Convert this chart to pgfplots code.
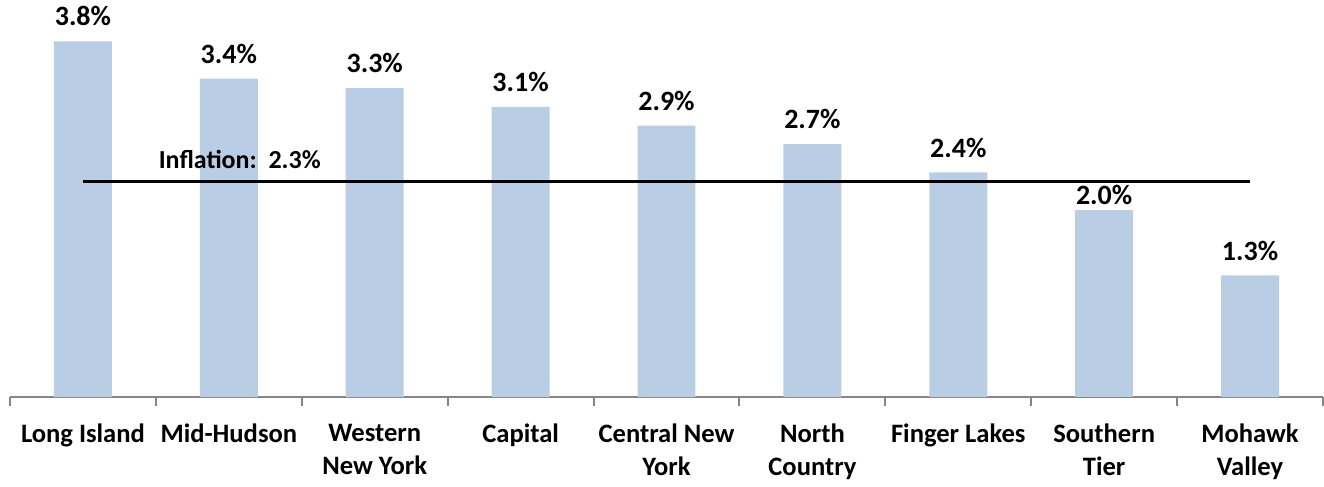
\documentclass[border=0pt]{standalone}
\usepackage{pgfplots}
\pgfplotsset{compat=1.18}
\usepackage{fontspec}
\setmainfont{Carlito}
\definecolor{barblue}{HTML}{B9CDE5}
\definecolor{axgray}{HTML}{868686}
\begin{document}
\begin{tikzpicture}
\begin{axis}[
  scale only axis, width=657pt, height=198.5pt,
  xmin=-0.5, xmax=8.5, ymin=0, ymax=4.237,
  axis x line=bottom, axis y line=none,
  x axis line style={-, draw=axgray, line width=1pt},
  xtick={0,...,8},
  xticklabels={Long Island, Mid-Hudson, {Western\\New York}, Capital, {Central New\\York}, {North\\Country}, Finger Lakes, {Southern\\Tier}, {Mohawk\\Valley}},
  major tick length=0pt,
  minor xtick={-0.5,0.5,...,8.5},
  minor tick length=4.5pt,
  minor tick style={draw=axgray, line width=1pt},
  tick align=outside,
  xticklabel style={align=center, font=\fontsize{13.3}{16.5}\selectfont\bfseries, yshift=-10pt},
  clip=false,
  valbar/.style={ybar, bar width=29pt, fill=barblue, draw=none,
    nodes near coords={\pgfmathprintnumber[fixed, fixed zerofill, precision=1, assume math mode=true]{\pgfplotspointmeta}\%},
    nodes near coords style={font=\fontsize{14}{16}\selectfont\bfseries, yshift=#1, black}},
]
\addplot[valbar=4pt]
  coordinates {(0,3.8) (1,3.4) (2,3.3) (3,3.1) (4,2.9) (5,2.7) (6,2.4) (8,1.3)};
\addplot[valbar=-1pt] coordinates {(7,2.0)};
\addplot[black, line width=1.5pt, mark=none] coordinates {(0,2.3) (8,2.3)};
\node[anchor=base west, font=\fontsize{13}{16}\selectfont\bfseries, inner sep=0pt] at (axis cs:0.517,2.3) [yshift=6.5pt] {Inflation:\ \ 2.3\%};
\end{axis}
\path ([xshift=-5pt]current axis.south west);
\end{tikzpicture}
\end{document}
